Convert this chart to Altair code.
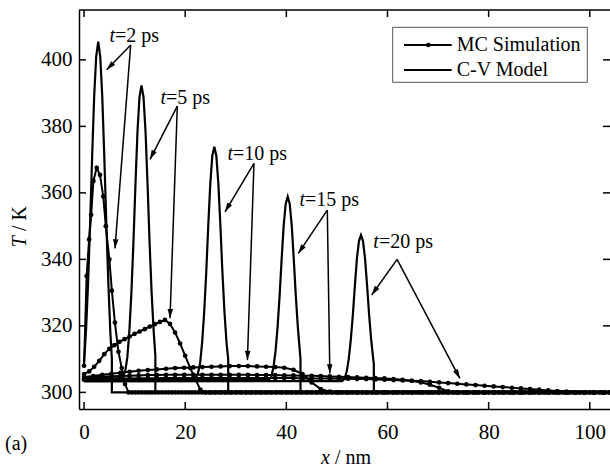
import math
import numpy as np
import pandas as pd
import altair as alt

# ---------------- plot geometry ----------------
W, H = 531, 399
X_DOMAIN = [-1, 104]
Y_DOMAIN = [295, 415]
SERIF = "Liberation Serif"
T_AMBIENT = 300.0
X_END = 104.0

# ---------------- C-V model profiles (x / nm, T / K) ----------------
cv_t2_x = [0.0, 0.4, 0.8, 1.2, 1.6, 2.0, 2.4, 2.8, 3.2, 3.6, 4.0, 4.4, 4.8, 5.2, 5.5, 5.5, 104.0]
cv_t2_T = [309, 319, 333, 351, 371, 389, 401, 405.5, 401, 389, 371, 351, 333, 318, 310, 300, 300]

cv_t5_x = [0.0, 7.7, 8.16, 8.56, 8.96, 9.36, 9.76, 10.16, 10.56, 10.96, 11.36,
           11.76, 12.16, 12.56, 12.96, 13.36, 13.76, 14.1, 14.1, 104.0]
cv_t5_T = [304.5, 304.8, 306.5, 310.6, 318.5, 330.0, 344.9, 362.4, 378.3, 388.8, 392.3,
           388.8, 378.3, 362.4, 344.9, 330.0, 318.5, 311.0, 300, 300]

cv_t10_x = [0.0, 22.0, 22.5, 22.96, 23.36, 23.76, 24.16, 24.56, 24.96, 25.36, 25.76,
            26.16, 26.56, 26.96, 27.36, 27.76, 28.16, 28.5, 28.5, 104.0]
cv_t10_T = [304.0, 304.2, 305.5, 308.9, 315.2, 324.3, 336.1, 350.1, 362.7, 371.1, 373.9,
            371.1, 362.7, 350.1, 336.1, 324.3, 315.2, 310.0, 300, 300]

cv_t15_x = [0.0, 36.5, 37.0, 37.47, 37.87, 38.27, 38.67, 39.07, 39.47, 39.87, 40.27,
            40.67, 41.07, 41.47, 41.87, 42.27, 42.8, 42.8, 104.0]
cv_t15_T = [303.7, 303.8, 304.5, 307.8, 312.5, 319.7, 329.1, 340.1, 350.1, 356.7, 358.9,
            356.7, 350.1, 340.1, 329.1, 319.7, 310.0, 300, 300]

cv_t20_x = [0.0, 51.0, 51.5, 51.96, 52.36, 52.76, 53.16, 53.56, 53.96, 54.36, 54.76,
            55.16, 55.56, 55.96, 56.36, 56.76, 57.16, 57.3, 57.3, 104.0]
cv_t20_T = [303.3, 303.4, 304.0, 306.4, 310.3, 316.1, 323.5, 332.3, 340.3, 345.5, 347.3,
            345.5, 340.3, 332.3, 323.5, 316.1, 310.3, 308.5, 300, 300]

# ---------------- MC simulation profiles (heated region only) ----------------
mc_t2_x = [0.0, 0.5, 1.0, 1.4, 1.85, 2.5, 3.15, 3.8, 4.3, 5.0, 5.5, 6.1, 6.8, 7.45, 8.1, 8.8]
mc_t2_T = [308, 335, 346, 353.4, 363.6, 367.5, 365.4, 358.9, 350, 340, 330.6, 321, 312.2, 307.3, 302.5, 300]

mc_t5_x = [float(v) for v in range(0, 25)]
mc_t5_T = [305.5, 306.3, 307.7, 309.5, 311.5, 313.1, 314.2, 315.2, 316.0, 316.8, 317.6,
           318.3, 319.0, 319.8, 320.5, 321.2, 321.8, 320.6, 318.0, 314.7, 311.0, 307.3,
           304.0, 300.8, 300.0]

mc_t10_x = [0.0, 1.8, 3.6, 5.4, 7.2, 9.0, 10.8, 12.6, 14.4, 16.2, 18.0, 19.8, 21.6, 23.4,
            25.2, 27.0, 28.8, 30.6, 32.4, 34.2, 36.0, 37.8, 39.6, 41.4, 43.2, 45.0, 46.8, 48.6]
mc_t10_T = [304.6, 304.9, 305.3, 305.6, 305.9, 306.2, 306.5, 306.7, 306.9, 307.1, 307.3,
            307.4, 307.5, 307.6, 307.7, 307.8, 307.9, 307.9, 307.9, 307.8, 307.7, 307.6,
            307.4, 306.8, 305.5, 303.0, 301.0, 300.2]

mc_t15_x = [0.0, 1.8, 3.6, 5.4, 7.2, 9.0, 10.8, 12.6, 14.4, 16.2, 18.0, 19.8, 21.6, 23.4,
            25.2, 27.0, 28.8, 30.6, 32.4, 34.2, 36.0, 37.8, 39.6, 41.4, 43.2, 45.0, 46.8,
            48.6, 50.4, 52.2, 54.0, 55.8, 57.6, 59.4, 61.2, 63.0, 64.8, 66.6, 68.4, 70.2,
            72.0, 73.8]
mc_t15_T = [304.2, 304.4, 304.6, 304.8, 304.9, 305.0, 305.1, 305.2, 305.2, 305.3, 305.3,
            305.3, 305.3, 305.3, 305.3, 305.3, 305.3, 305.3, 305.3, 305.2, 305.2, 305.2,
            305.1, 305.1, 305.0, 305.0, 304.9, 304.8, 304.7, 304.6, 304.5, 304.4, 304.3,
            304.2, 304.0, 303.8, 303.5, 303.0, 302.3, 301.4, 300.3, 300.0]

mc_t20_x = [0.0, 1.8, 3.6, 5.4, 7.2, 9.0, 10.8, 12.6, 14.4, 16.2, 18.0, 19.8, 21.6, 23.4,
            25.2, 27.0, 28.8, 30.6, 32.4, 34.2, 36.0, 37.8, 39.6, 41.4, 43.2, 45.0, 46.8,
            48.6, 50.4, 52.2, 54.0, 55.8, 57.6, 59.4, 61.2, 63.0, 64.8, 66.6, 68.4, 70.2,
            72.0, 73.8, 75.6, 77.4, 79.2, 81.0, 82.8, 84.6, 86.4, 88.2, 90.0, 91.8, 93.6,
            95.4, 97.2]
mc_t20_T = [303.8, 303.9, 304.0, 304.0, 304.1, 304.1, 304.2, 304.2, 304.2, 304.3, 304.3,
            304.3, 304.3, 304.3, 304.3, 304.3, 304.3, 304.3, 304.3, 304.3, 304.3, 304.3,
            304.3, 304.3, 304.2, 304.2, 304.2, 304.2, 304.1, 304.1, 304.0, 304.0, 303.9,
            303.8, 303.7, 303.6, 303.5, 303.4, 303.2, 303.0, 302.8, 302.6, 302.4, 302.2,
            302.0, 301.8, 301.6, 301.4, 301.2, 301.0, 300.8, 300.6, 300.4, 300.2, 300.0]

# MC cell spacing for each snapshot (nm)
mc_dx = {"2": 0.66, "5": 1.0, "10": 1.8, "15": 1.8, "20": 1.8}

# ---------------- annotations ----------------
ann_time = ["2", "5", "10", "15", "20"]
ann_text_x = [6.12, 16.2, 29.46, 43.69, 58.3]
ann_text_T = [405.4, 386.7, 369.9, 356.05, 343.4]
ann_apex_x = [9.22, 18.44, 33.6, 48.1, 61.9]
ann_apex_T = [404.5, 386.1, 368.9, 354.8, 340.0]
ann_cv_x = [4.48, 13.04, 27.87, 42.37, 56.88]
ann_cv_T = [397.0, 370.1, 354.3, 341.8, 329.3]
ann_mc_x = [6.12, 17.0, 32.3, 48.6, 74.3]
ann_mc_T = [343.3, 322.3, 309.7, 305.7, 304.2]

x_ticks = [0, 20, 40, 60, 80, 100]
y_ticks = [300, 320, 340, 360, 380, 400]

# ---------------- tables ----------------
cv_sets = {"2": (cv_t2_x, cv_t2_T), "5": (cv_t5_x, cv_t5_T), "10": (cv_t10_x, cv_t10_T),
           "15": (cv_t15_x, cv_t15_T), "20": (cv_t20_x, cv_t20_T)}
mc_sets = {"2": (mc_t2_x, mc_t2_T), "5": (mc_t5_x, mc_t5_T), "10": (mc_t10_x, mc_t10_T),
           "15": (mc_t15_x, mc_t15_T), "20": (mc_t20_x, mc_t20_T)}

cv_rows = []
for t, (xs, ts) in cv_sets.items():
    for i, (a, b) in enumerate(zip(xs, ts)):
        cv_rows.append({"t": t, "i": i, "x": a, "T": b})
cv_df = pd.DataFrame(cv_rows)

mc_rows = []
for t, (xs, ts) in mc_sets.items():
    xs = list(xs)
    ts = list(ts)
    # beyond the heated region every cell sits at the ambient temperature
    tail = np.arange(xs[-1] + mc_dx[t], X_END + 1e-9, mc_dx[t])
    xs += list(tail)
    ts += [T_AMBIENT] * len(tail)
    for i, (a, b) in enumerate(zip(xs, ts)):
        mc_rows.append({"t": t, "i": i, "x": a, "T": b})
mc_df = pd.DataFrame(mc_rows)

kx = W / (X_DOMAIN[1] - X_DOMAIN[0])
ky = H / (Y_DOMAIN[1] - Y_DOMAIN[0])


def head_angle(x0, t0, x1, t1):
    sx = (x1 - x0) * kx
    sy = -(t1 - t0) * ky
    return math.degrees(math.atan2(sx, -sy)) % 360


arrow_rows = []
for k, t in enumerate(ann_time):
    for tx, tt in ((ann_cv_x[k], ann_cv_T[k]), (ann_mc_x[k], ann_mc_T[k])):
        arrow_rows.append({"t": t, "x0": ann_apex_x[k], "T0": ann_apex_T[k], "x1": tx, "T1": tt,
                           "ang": head_angle(ann_apex_x[k], ann_apex_T[k], tx, tt)})
arrow_df = pd.DataFrame(arrow_rows)

label_df = pd.DataFrame({"x": ann_text_x, "T": ann_text_T,
                         "rest": ["=" + t + " ps" for t in ann_time]})

xs_scale = alt.Scale(domain=X_DOMAIN, nice=False, zero=False)
ys_scale = alt.Scale(domain=Y_DOMAIN, nice=False, zero=False)
x_axis = alt.Axis(values=x_ticks, ticks=False, grid=False, title=None, domainColor="black",
                  domainWidth=1.5, labelFont=SERIF, labelFontSize=21, labelColor="black",
                  labelPadding=12, labelFlush=False)
y_axis = alt.Axis(values=y_ticks, ticks=False, grid=False, title=None, domainColor="black",
                  domainWidth=1.5, labelFont=SERIF, labelFontSize=21, labelColor="black",
                  labelPadding=7)


def X(field):
    return alt.X(field, type="quantitative", scale=xs_scale, axis=x_axis)


def Y(field):
    return alt.Y(field, type="quantitative", scale=ys_scale, axis=y_axis)


one = pd.DataFrame({"k": [0]})

cv_layer = alt.Chart(cv_df).mark_line(color="black", strokeWidth=2.2, clip=True).encode(
    x=X("x"), y=Y("T"), detail="t:N", order="i:Q")

mc_layer = alt.Chart(mc_df).mark_line(
    color="black", strokeWidth=2, clip=True,
    point=alt.OverlayMarkDef(filled=True, size=22, color="black", opacity=1)).encode(
    x=X("x"), y=Y("T"), detail="t:N", order="i:Q")

arrow_lines = alt.Chart(arrow_df).mark_rule(color="black", strokeWidth=1.5).encode(
    x=X("x0"), y=Y("T0"), x2="x1", y2="T1")

arrow_heads = alt.Chart(arrow_df).mark_point(
    shape="M0,0L-0.3,1L0.3,1Z", filled=True, color="black", opacity=1, size=340).encode(
    x=X("x1"), y=Y("T1"), angle=alt.Angle("ang:Q", scale=None))

label_t = alt.Chart(label_df).mark_text(
    text="t", font=SERIF, fontSize=20, fontStyle="italic", align="right",
    baseline="alphabetic", color="black").encode(x=X("x"), y=Y("T"))

label_rest = alt.Chart(label_df).mark_text(
    font=SERIF, fontSize=20, align="left", baseline="alphabetic", color="black").encode(
    x=X("x"), y=Y("T"), text="rest:N")

tick_df_x = pd.DataFrame({"v": x_ticks})
tick_df_y = pd.DataFrame({"v": y_ticks})
TL = 7
ticks_bottom = alt.Chart(tick_df_x).mark_rule(color="black", strokeWidth=1.5).encode(
    x=X("v"), y=alt.value(H), y2=alt.value(H - TL))
ticks_top = alt.Chart(tick_df_x).mark_rule(color="black", strokeWidth=1.5).encode(
    x=X("v"), y=alt.value(0), y2=alt.value(TL))
ticks_left = alt.Chart(tick_df_y).mark_rule(color="black", strokeWidth=1.5).encode(
    y=Y("v"), x=alt.value(0), x2=alt.value(TL))
ticks_right = alt.Chart(tick_df_y).mark_rule(color="black", strokeWidth=1.5).encode(
    y=Y("v"), x=alt.value(W), x2=alt.value(W - TL))
top_border = alt.Chart(one).mark_rule(color="black", strokeWidth=1.5).encode(
    x=alt.value(0), x2=alt.value(W), y=alt.value(0))

# legend box
LX0, LX1, LY0, LY1 = 313.7, 508.3, 17.3, 72.3
legend_box = alt.Chart(one).mark_rect(fill="white", stroke="#555555", strokeWidth=1).encode(
    x=alt.value(LX0), x2=alt.value(LX1), y=alt.value(LY0), y2=alt.value(LY1))
leg_mc_line = alt.Chart(one).mark_rule(color="black", strokeWidth=2).encode(
    x=alt.value(325), x2=alt.value(372.7), y=alt.value(35))
leg_mc_dot = alt.Chart(one).mark_point(filled=True, color="black", size=22, opacity=1).encode(
    x=alt.value(349.3), y=alt.value(35))
leg_cv_line = alt.Chart(one).mark_rule(color="black", strokeWidth=2.2).encode(
    x=alt.value(325), x2=alt.value(372.7), y=alt.value(60))
leg_mc_text = alt.Chart(one).mark_text(
    text="MC Simulation", font=SERIF, fontSize=20, align="left", baseline="middle",
    color="black").encode(x=alt.value(377.7), y=alt.value(35))
leg_cv_text = alt.Chart(one).mark_text(
    text="C-V Model", font=SERIF, fontSize=20, align="left", baseline="middle",
    color="black").encode(x=alt.value(377.7), y=alt.value(60))

# axis titles (italic symbol + upright unit) and panel tag
GAP = 5
xt_italic = alt.Chart(one).mark_text(
    text="x", font=SERIF, fontSize=20, fontStyle="italic", align="right",
    baseline="alphabetic", color="black").encode(x=alt.value(251), y=alt.value(454))
xt_rest = alt.Chart(one).mark_text(
    text="/ nm", font=SERIF, fontSize=20, align="left",
    baseline="alphabetic", color="black").encode(x=alt.value(251 + GAP), y=alt.value(454))
yt_italic = alt.Chart(one).mark_text(
    text="T", font=SERIF, fontSize=20, fontStyle="italic", align="right", angle=270,
    baseline="alphabetic", color="black").encode(x=alt.value(-53), y=alt.value(226))
yt_rest = alt.Chart(one).mark_text(
    text="/ K", font=SERIF, fontSize=20, align="left", angle=270,
    baseline="alphabetic", color="black").encode(x=alt.value(-53), y=alt.value(226 - GAP))
tag = alt.Chart(one).mark_text(
    text="(a)", font=SERIF, fontSize=20, align="left", baseline="alphabetic",
    color="black").encode(x=alt.value(-74), y=alt.value(440))

chart = alt.layer(
    cv_layer, mc_layer, arrow_lines, arrow_heads, label_t, label_rest,
    ticks_bottom, ticks_top, ticks_left, ticks_right, top_border,
    legend_box, leg_mc_line, leg_mc_dot, leg_cv_line, leg_mc_text, leg_cv_text,
    xt_italic, xt_rest, yt_italic, yt_rest, tag,
).properties(
    width=W, height=H,
    padding={"left": 79, "top": 10, "right": 0, "bottom": 61},
    autosize=alt.AutoSizeParams(type="none"),
    background="white",
).configure_view(stroke=None)

chart.save("out.html", embed_options={"renderer": "svg", "actions": False})
